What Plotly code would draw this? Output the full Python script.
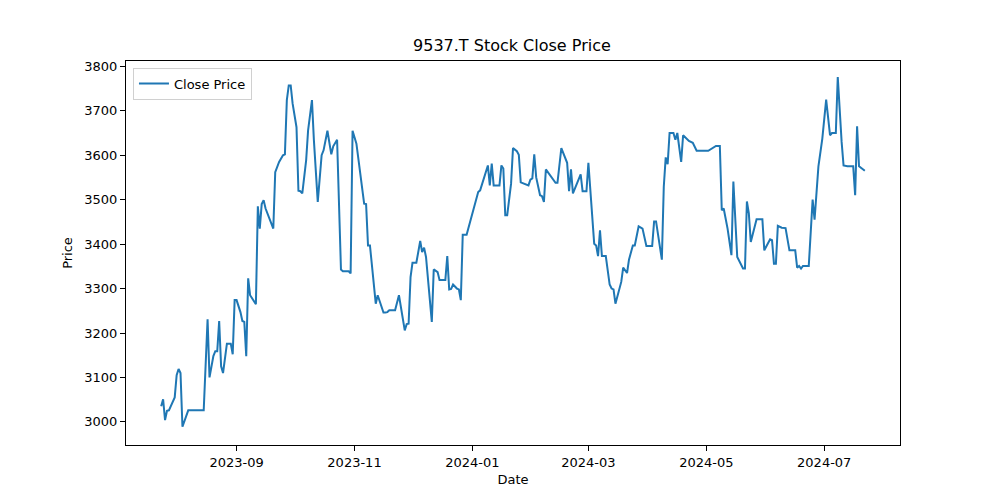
import plotly.graph_objects as go
import pandas as pd

dates = [
    "2023-07-24", "2023-07-25", "2023-07-26", "2023-07-27", "2023-07-28", "2023-07-31",
    "2023-08-01", "2023-08-02", "2023-08-03", "2023-08-04", "2023-08-07", "2023-08-15",
    "2023-08-17", "2023-08-18", "2023-08-20", "2023-08-21", "2023-08-22", "2023-08-23",
    "2023-08-24", "2023-08-25", "2023-08-27", "2023-08-29", "2023-08-30", "2023-08-31",
    "2023-09-01", "2023-09-03", "2023-09-04", "2023-09-05", "2023-09-06", "2023-09-07",
    "2023-09-08", "2023-09-11", "2023-09-12", "2023-09-13", "2023-09-14", "2023-09-15",
    "2023-09-16", "2023-09-18", "2023-09-20", "2023-09-21", "2023-09-23", "2023-09-25",
    "2023-09-26", "2023-09-27", "2023-09-28", "2023-09-29", "2023-09-30", "2023-10-02",
    "2023-10-03", "2023-10-04", "2023-10-05", "2023-10-07", "2023-10-08", "2023-10-10",
    "2023-10-11", "2023-10-13", "2023-10-15", "2023-10-16", "2023-10-18", "2023-10-20",
    "2023-10-21", "2023-10-23", "2023-10-25", "2023-10-26", "2023-10-29", "2023-10-30",
    "2023-10-31", "2023-11-02", "2023-11-04", "2023-11-06", "2023-11-07", "2023-11-08",
    "2023-11-09", "2023-11-12", "2023-11-13", "2023-11-16", "2023-11-17", "2023-11-18",
    "2023-11-19", "2023-11-22", "2023-11-24", "2023-11-27", "2023-11-28", "2023-11-29",
    "2023-11-30", "2023-12-01", "2023-12-03", "2023-12-05", "2023-12-06", "2023-12-07",
    "2023-12-08", "2023-12-11", "2023-12-12", "2023-12-14", "2023-12-15", "2023-12-18",
    "2023-12-19", "2023-12-20", "2023-12-21", "2023-12-22", "2023-12-24", "2023-12-25",
    "2023-12-26", "2023-12-27", "2023-12-29", "2024-01-04", "2024-01-05", "2024-01-09",
    "2024-01-10", "2024-01-11", "2024-01-12", "2024-01-15", "2024-01-16", "2024-01-17",
    "2024-01-18", "2024-01-19", "2024-01-21", "2024-01-22", "2024-01-24", "2024-01-25",
    "2024-01-26", "2024-01-28", "2024-01-30", "2024-01-31", "2024-02-01", "2024-02-02",
    "2024-02-03", "2024-02-05", "2024-02-06", "2024-02-07", "2024-02-08", "2024-02-13",
    "2024-02-14", "2024-02-16", "2024-02-18", "2024-02-19", "2024-02-20", "2024-02-21",
    "2024-02-22", "2024-02-26", "2024-02-27", "2024-02-29", "2024-03-01", "2024-03-04",
    "2024-03-05", "2024-03-06", "2024-03-07", "2024-03-08", "2024-03-10", "2024-03-12",
    "2024-03-13", "2024-03-14", "2024-03-15", "2024-03-18", "2024-03-19", "2024-03-21",
    "2024-03-22", "2024-03-24", "2024-03-25", "2024-03-27", "2024-03-29", "2024-03-31",
    "2024-04-03", "2024-04-04", "2024-04-05", "2024-04-08", "2024-04-09", "2024-04-10",
    "2024-04-11", "2024-04-12", "2024-04-14", "2024-04-15", "2024-04-16", "2024-04-18",
    "2024-04-19", "2024-04-22", "2024-04-24", "2024-04-26", "2024-05-02", "2024-05-06",
    "2024-05-08", "2024-05-09", "2024-05-10", "2024-05-12", "2024-05-14", "2024-05-15",
    "2024-05-17", "2024-05-20", "2024-05-21", "2024-05-22", "2024-05-23", "2024-05-24",
    "2024-05-27", "2024-05-30", "2024-05-31", "2024-06-03", "2024-06-04", "2024-06-05",
    "2024-06-06", "2024-06-07", "2024-06-09", "2024-06-11", "2024-06-13", "2024-06-16",
    "2024-06-17", "2024-06-18", "2024-06-19", "2024-06-20", "2024-06-23", "2024-06-25",
    "2024-06-26", "2024-06-28", "2024-06-30", "2024-07-02", "2024-07-04", "2024-07-05",
    "2024-07-07", "2024-07-08", "2024-07-10", "2024-07-11", "2024-07-13", "2024-07-16",
    "2024-07-17", "2024-07-18", "2024-07-19", "2024-07-22",
]

close = [
    3035, 3051, 3004, 3025, 3026, 3055,
    3105, 3119, 3110, 2989, 3026, 3026,
    3231, 3100, 3148, 3159, 3159, 3227,
    3125, 3110, 3176, 3176, 3152, 3274,
    3274, 3247, 3227, 3225, 3148, 3323,
    3285, 3265, 3485, 3435, 3490, 3499,
    3480, 3457, 3435, 3562, 3585, 3600,
    3602, 3724, 3757, 3757, 3716, 3663,
    3520, 3519, 3514, 3589, 3656, 3724,
    3634, 3495, 3600, 3611, 3655, 3602,
    3620, 3635, 3343, 3339, 3339, 3334,
    3655, 3626, 3559, 3491, 3490, 3397,
    3397, 3266, 3285, 3246, 3246, 3247,
    3251, 3251, 3285, 3206, 3220, 3221,
    3326, 3358, 3358, 3407, 3382, 3392,
    3371, 3225, 3343, 3337, 3319, 3319,
    3373, 3298, 3299, 3309, 3300, 3298,
    3274, 3421, 3421, 3517, 3521, 3577,
    3532, 3581, 3532, 3532, 3577, 3570,
    3465, 3465, 3536, 3616, 3609, 3601,
    3539, 3535, 3532, 3545, 3548, 3602,
    3550, 3510, 3508, 3495, 3568, 3538,
    3538, 3616, 3596, 3583, 3519, 3568,
    3514, 3557, 3519, 3519, 3583, 3401,
    3397, 3373, 3431, 3373, 3373, 3309,
    3300, 3298, 3266, 3315, 3347, 3335,
    3365, 3397, 3397, 3440, 3435, 3396,
    3396, 3451, 3451, 3365, 3529, 3595,
    3580, 3650, 3650, 3635, 3650, 3585,
    3645, 3632, 3628, 3610, 3610, 3621,
    3621, 3476, 3480, 3435, 3375, 3541,
    3371, 3345, 3345, 3496, 3469, 3405,
    3456, 3456, 3386, 3411, 3409, 3356,
    3356, 3441, 3437, 3436, 3386, 3386,
    3347, 3351, 3345, 3351, 3351, 3500,
    3455, 3575, 3637, 3725, 3645, 3650,
    3650, 3776, 3630, 3577, 3575, 3575,
    3510, 3665, 3575, 3565,
]

x_tick_vals = ["2023-09-01", "2023-11-01", "2024-01-01", "2024-03-01", "2024-05-01", "2024-07-01"]
x_tick_text = ["2023-09", "2023-11", "2024-01", "2024-03", "2024-05", "2024-07"]
y_tick_vals = [3000, 3100, 3200, 3300, 3400, 3500, 3600, 3700, 3800]

# matplotlib-like 5% margins
d = pd.to_datetime(dates)
span = d.max() - d.min()
x_range = [d.min() - 0.05 * span, d.max() + 0.05 * span]

font = "DejaVu Sans"

fig = go.Figure()
fig.add_trace(go.Scatter(
    x=dates, y=close, mode="lines", name="Close Price",
    line=dict(color="#1f77b4", width=2),
))

axis_common = dict(
    showline=True, linecolor="black", linewidth=1, mirror=True,
    ticks="outside", ticklen=5, tickwidth=1, tickcolor="black",
    showgrid=False, zeroline=False, automargin=False,
    tickfont=dict(family=font, size=13, color="black"),
)

fig.update_layout(
    width=992, height=492,
    margin=dict(l=118, r=100, t=53, b=55, autoexpand=False),
    paper_bgcolor="white", plot_bgcolor="white",
    title=dict(text="9537.T Stock Close Price", x=0.508, xanchor="center",
               y=0.925, yanchor="middle",
               font=dict(family=font, size=16, color="black")),
    font=dict(family=font, color="black"),
    showlegend=True,
    legend=dict(x=0.009, y=0.983, xanchor="left", yanchor="top",
                bgcolor="rgba(255,255,255,0.8)", bordercolor="#d0d0d0", borderwidth=1,
                font=dict(family=font, size=13, color="black")),
    xaxis=dict(axis_common, range=x_range, tickvals=x_tick_vals, ticktext=x_tick_text,
               title=dict(text="Date", font=dict(family=font, size=13), standoff=6)),
    yaxis=dict(axis_common, range=[2948, 3812], tickvals=y_tick_vals,
               title=dict(text="Price", font=dict(family=font, size=13), standoff=8)),
)

fig.write_html("out.html")
